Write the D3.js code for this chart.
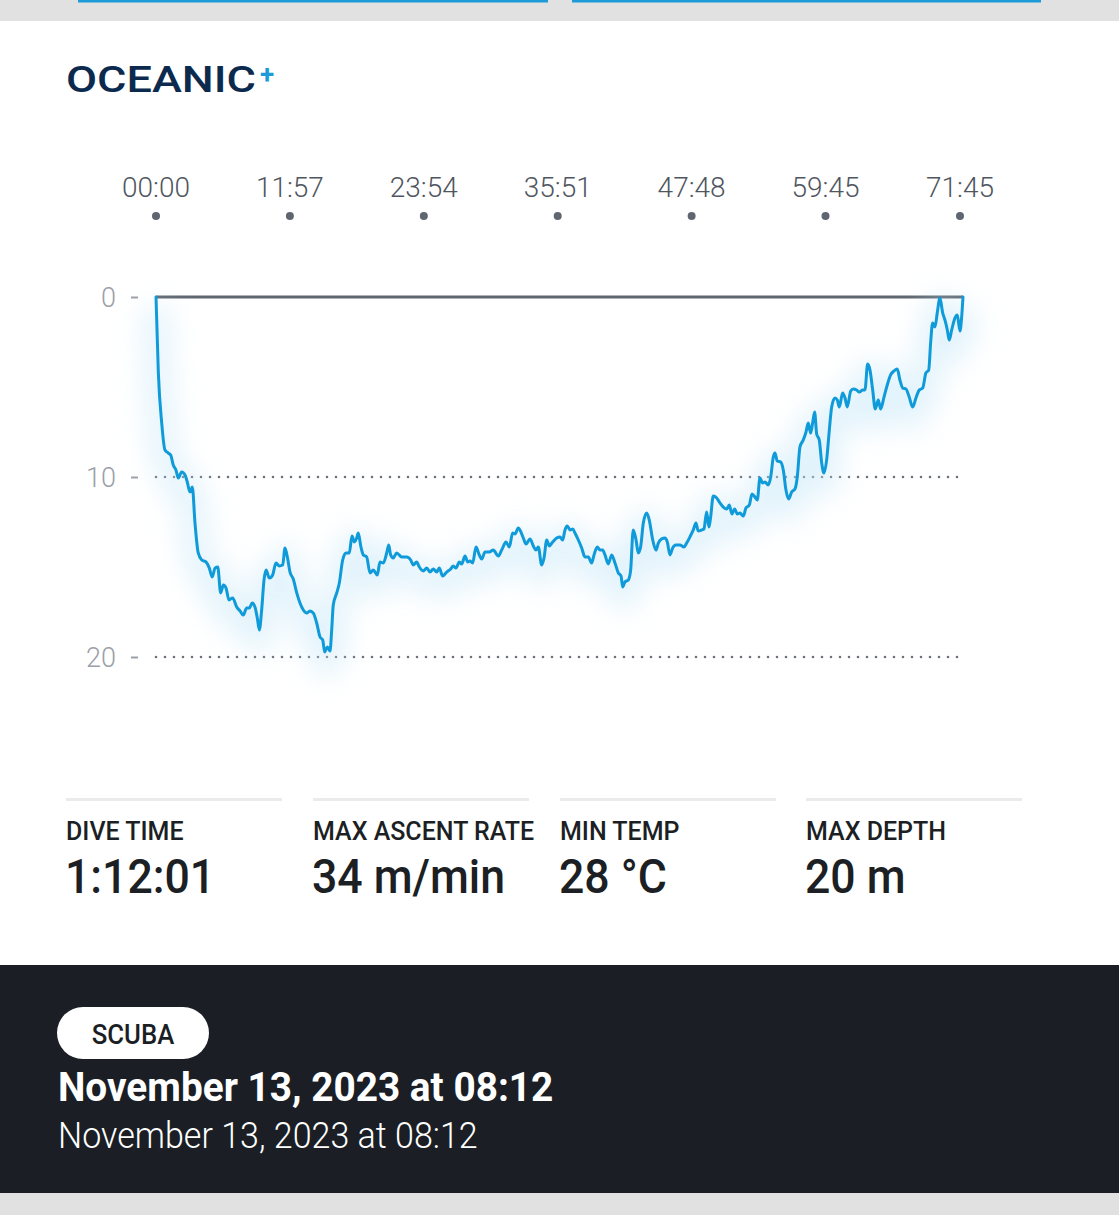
<!DOCTYPE html>
<html>
<head>
<meta charset="utf-8">
<script src="https://cdn.jsdelivr.net/npm/d3@7"></script>
<style>
  html, body { margin: 0; padding: 0; background: #ffffff; }
  svg { display: block; font-family: Roboto, "Noto Sans", sans-serif; }
</style>
</head>
<body>
<script>
// ---- data (time in minutes, depth in metres) ----
const times = [0,0.21,0.51,0.80,1.10,1.31,1.54,1.78,1.99,2.29,2.59,2.79,3.03,3.24,3.48,3.77,4.08,4.46,4.76,5.02,
5.27,5.51,5.77,6.01,6.25,6.51,6.84,7.20,7.50,7.79,8.09,8.33,8.59,8.83,9.04,9.22,9.43,9.64,9.82,10.11,
10.41,10.71,11.00,11.31,11.51,11.72,11.96,12.25,12.56,12.85,13.15,13.45,13.74,14.04,14.34,14.64,14.88,15.05,15.29,15.53,
15.68,15.82,16.13,16.36,16.66,16.96,17.25,17.49,17.70,17.91,18.05,18.29,18.50,18.80,19.10,19.39,19.75,19.99,20.28,20.59,
20.77,20.94,21.18,21.48,21.93,22.37,22.73,22.96,23.26,23.50,23.85,24.16,24.45,24.75,25.05,25.28,25.58,25.94,26.30,26.53,
26.77,27.07,27.28,27.58,27.82,28.02,28.26,28.56,28.85,29.07,29.36,29.74,30.10,30.55,30.85,31.23,31.53,31.83,32.04,32.33,
32.57,32.78,33.02,33.38,33.67,33.91,34.12,34.42,34.63,34.87,35.10,35.40,35.76,36.05,36.29,36.50,36.70,36.95,37.19,37.39,
37.69,37.99,38.28,38.58,38.88,39.09,39.38,39.62,39.86,40.07,40.36,40.67,40.96,41.26,41.50,41.65,41.85,42.15,42.36,42.59,
42.84,43.04,43.25,43.49,43.79,44.02,44.33,44.62,44.83,45.13,45.42,45.63,45.87,46.11,46.40,46.76,47.12,47.36,47.65,47.95,
48.19,48.39,48.70,48.90,49.14,49.35,49.50,49.73,50.04,50.33,50.63,50.93,51.16,51.40,51.64,51.88,52.12,52.41,52.65,52.95,
53.19,53.45,53.66,53.90,54.14,54.35,54.64,54.86,55.09,55.24,55.44,55.75,55.98,56.22,56.46,56.73,57.02,57.23,57.47,57.77,
58.01,58.21,58.42,58.60,58.78,58.96,59.19,59.41,59.61,59.85,60.09,60.30,60.59,60.80,60.98,61.28,61.49,61.69,62.00,62.23,
62.53,62.76,63.07,63.27,63.51,63.72,63.96,64.19,64.46,64.67,64.97,65.26,65.56,65.86,66.15,66.39,66.64,66.93,67.22,67.53,
67.82,68.12,68.42,68.71,68.96,69.13,69.31,69.52,69.72,69.96,70.21,70.41,70.62,70.79,71.01,71.30,71.51,71.75,71.90,72.02];
const depths = [0,4.22,7.00,8.50,8.67,8.78,9.33,9.61,10.06,9.72,9.89,10.28,10.83,10.56,12.56,14.22,14.61,14.72,15.06,15.56,
15.06,15.00,16.44,16.00,16.17,16.83,16.72,17.22,17.44,17.67,17.28,17.28,17.00,17.22,17.83,18.50,17.39,15.72,15.17,15.61,
15.44,14.78,14.94,14.89,13.94,14.44,15.28,15.67,16.44,17.00,17.39,17.56,17.44,17.56,18.11,18.89,19.06,19.72,19.44,19.67,
18.50,17.11,16.44,15.89,14.61,14.22,14.22,13.28,13.61,13.39,13.11,13.89,14.33,14.44,15.33,15.17,15.44,14.72,14.78,14.22,
13.78,14.33,14.50,14.22,14.44,14.44,14.61,14.89,14.72,15.00,15.22,15.06,15.28,15.11,15.28,15.06,15.50,15.28,15.11,14.94,
15.06,14.72,14.83,14.39,14.72,14.67,14.78,13.89,14.33,14.56,14.17,14.17,14.06,14.39,14.06,13.61,13.89,13.11,13.17,12.83,
13.06,13.39,13.72,13.44,13.83,14.06,13.89,14.89,14.50,13.50,13.83,13.61,13.39,13.33,13.50,12.94,12.72,12.94,12.89,13.11,
13.50,13.94,14.44,14.44,14.78,14.33,13.89,14.06,14.06,14.33,14.83,14.33,14.78,15.33,15.50,16.11,15.83,15.72,15.17,12.94,
13.50,14.22,13.89,12.56,12.00,12.39,13.50,14.06,13.67,13.44,13.39,13.61,14.33,13.94,13.78,13.78,13.89,13.67,13.33,12.94,
12.56,13.00,12.94,12.89,11.94,12.78,12.22,11.06,11.17,11.44,11.67,11.78,11.56,12.06,11.78,12.06,12.00,12.17,11.72,11.56,
10.94,11.11,11.28,10.06,10.33,10.28,10.44,10.00,8.89,8.67,9.11,9.17,9.61,10.72,11.22,10.83,10.67,10.00,8.33,7.94,
7.50,7.00,7.56,7.00,6.39,7.61,7.94,9.22,9.78,9.06,7.39,6.11,5.61,5.72,6.11,5.33,5.61,6.11,5.22,5.11,
5.17,5.28,5.17,5.17,3.72,4.06,5.17,6.22,5.72,6.22,5.56,4.89,4.33,4.11,4.00,4.61,5.06,5.11,5.56,6.11,
5.61,5.17,5.06,4.22,4.06,2.56,1.44,1.67,0.89,0.06,0.89,1.28,1.83,2.39,1.83,1.17,1.00,1.89,1.11,0];

const diveEnd = 72.02;                        // 1:12:01
const xTickValues = [0, 11.95, 23.9, 35.85, 47.8, 59.75, 71.75];
const xTickLabels = ["00:00","11:57","23:54","35:51","47:48","59:45","71:45"];
const yTickValues = [0, 10, 20];
const statLabels = ["DIVE TIME","MAX ASCENT RATE","MIN TEMP","MAX DEPTH"];
const statValues = ["1:12:01","34 m/min","28 °C","20 m"];
const activity = "SCUBA";
const titleText = "November 13, 2023 at 08:12";
const subtitleText = "November 13, 2023 at 08:12";

// ---- layout ----
const W = 1119, H = 1215;
const svg = d3.select("body").append("svg").attr("width", W).attr("height", H);
const defs = svg.append("defs");
const glow = defs.append("filter").attr("id","glow").attr("x","-20%").attr("y","-40%").attr("width","140%").attr("height","180%");
glow.append("feGaussianBlur").attr("stdDeviation", 14);

// page background pieces
svg.append("rect").attr("x",0).attr("y",0).attr("width",W).attr("height",21).attr("fill","#e1e1e1");
svg.append("rect").attr("x",78).attr("y",0).attr("width",470).attr("height",2.5).attr("fill","#1c9bd8");
svg.append("rect").attr("x",572).attr("y",0).attr("width",469).attr("height",2.5).attr("fill","#1c9bd8");

// logo
const logo = svg.append("g").attr("transform","translate(66,92)");
logo.append("text").text("OCEANIC")
  .attr("font-size",36).attr("font-weight",500).attr("fill","#0c2a4e")
  .attr("textLength",190).attr("lengthAdjust","spacingAndGlyphs");
logo.append("text").text("+").attr("x",194).attr("y",-9)
  .attr("font-size",26).attr("font-weight",700).attr("fill","#1c9bd8");

// scales
const x = d3.scaleLinear().domain([0, diveEnd]).range([156, 963]);
const y = d3.scaleLinear().domain([0, 20]).range([297, 657]);

// x ticks (labels + dots)
const xg = svg.append("g");
xg.selectAll("text").data(xTickValues).join("text")
  .attr("x", d => x(d)).attr("y", 197)
  .attr("text-anchor","middle").attr("font-size",28).attr("font-weight",300)
  .attr("fill","#4f5660")
  .text((d,i) => xTickLabels[i]);
xg.selectAll("circle").data(xTickValues).join("circle")
  .attr("cx", d => x(d)).attr("cy", 216).attr("r", 4).attr("fill","#5f6670");

// y axis
const yAxis = d3.axisLeft(y).tickValues(yTickValues).tickSize(7).tickPadding(15).tickFormat(d3.format("d"));
const yg = svg.append("g").attr("transform","translate(138,0)").call(yAxis);
yg.select(".domain").remove();
yg.selectAll(".tick line").attr("stroke","#9aa0a8").attr("stroke-width",2);
yg.selectAll(".tick text").attr("font-size",27).attr("font-weight",300).attr("fill","#9aa0a8")
  .attr("font-family","Roboto, sans-serif").attr("dy","0.35em");

// grid lines
svg.append("g").selectAll("line").data(yTickValues.filter(d => d > 0)).join("line")
  .attr("x1", 156).attr("x2", 960).attr("y1", d => y(d)).attr("y2", d => y(d))
  .attr("stroke","#6b7079").attr("stroke-width",2.6).attr("stroke-linecap","round")
  .attr("stroke-dasharray","0 9");

// surface line
svg.append("line").attr("x1", x(0)).attr("x2", x(diveEnd)).attr("y1", y(0)).attr("y2", y(0))
  .attr("stroke","#5f6670").attr("stroke-width",3);

// depth profile
const pts = times.map((t,i) => [t, depths[i]]);
const line = d3.line().x(d => x(d[0])).y(d => y(d[1])).curve(d3.curveMonotoneX);
svg.append("path").datum(pts).attr("d", line)
  .attr("fill","none").attr("stroke","#bfe4f7").attr("stroke-width",26).attr("opacity",0.45)
  .attr("transform","translate(0,10)").attr("filter","url(#glow)");
svg.append("path").datum(pts).attr("d", line)
  .attr("fill","none").attr("stroke","#0f9ad9").attr("stroke-width",3)
  .attr("stroke-linejoin","round").attr("stroke-linecap","round");

// stats
const colX = [66, 313, 560, 806];
const stats = svg.append("g");
colX.forEach((cx, i) => {
  stats.append("rect").attr("x",cx).attr("y",798).attr("width",216).attr("height",3).attr("fill","#ebebeb");
  stats.append("text").text(statLabels[i]).attr("transform",`translate(${cx},840) scale(1,1)`)
    .attr("font-size",25).attr("font-weight",500).attr("fill","#1c1f24");
  stats.append("text").text(statValues[i]).attr("transform",`translate(${cx-1},893) scale(0.91,1)`)
    .attr("font-size",49).attr("font-weight",500).attr("fill","#1c1f24");
});

// bottom panel
svg.append("rect").attr("x",0).attr("y",965).attr("width",W).attr("height",228).attr("fill","#1b1f25");
svg.append("rect").attr("x",0).attr("y",1193).attr("width",W).attr("height",H-1193).attr("fill","#e1e1e1");
svg.append("rect").attr("x",57).attr("y",1007).attr("width",152).attr("height",52).attr("rx",26).attr("fill","#ffffff");
svg.append("text").text(activity).attr("transform","translate(133,1044) scale(0.92,1)")
  .attr("text-anchor","middle").attr("font-size",28).attr("font-weight",500).attr("fill","#1b1f25");
svg.append("text").text(titleText).attr("transform","translate(58,1101) scale(0.97,1)")
  .attr("font-size",40).attr("font-weight",700).attr("fill","#ffffff");
svg.append("text").text(subtitleText).attr("transform","translate(58,1148) scale(0.92,1)")
  .attr("font-size",37).attr("font-weight",300).attr("fill","#ffffff");
</script>
</body>
</html>
